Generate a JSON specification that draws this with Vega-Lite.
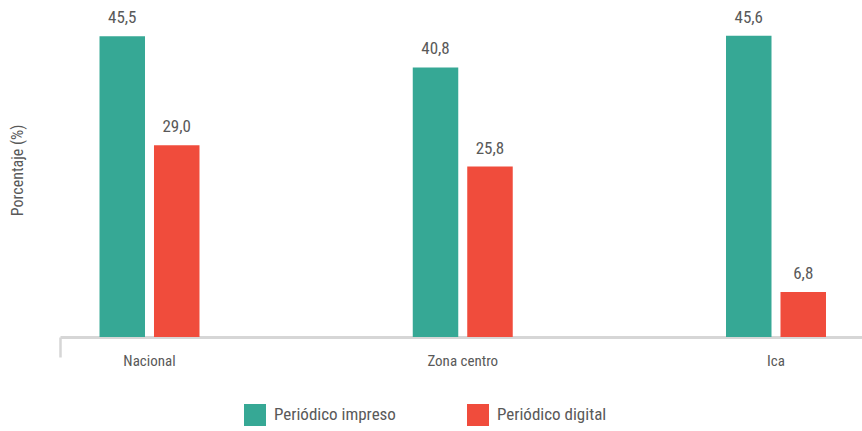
{
  "$schema": "https://vega.github.io/schema/vega-lite/v6.json",
  "width": 802,
  "height": 337,
  "autosize": {"type": "none"},
  "padding": {"left": 60, "top": 0, "right": 0, "bottom": 94},
  "config": {
    "font": "Liberation Sans Narrow, Roboto Condensed, DejaVu Sans Condensed, Roboto",
    "view": {"stroke": null},
    "locale": {"number": {"decimal": ",", "thousands": ".", "grouping": [3], "currency": ["", " €"]}}
  },
  "data": {
    "values": [
      {"region": "Nacional", "serie": "Periódico impreso", "value": 45.5},
      {"region": "Nacional", "serie": "Periódico digital", "value": 29.0},
      {"region": "Zona centro", "serie": "Periódico impreso", "value": 40.8},
      {"region": "Zona centro", "serie": "Periódico digital", "value": 25.8},
      {"region": "Ica", "serie": "Periódico impreso", "value": 45.6},
      {"region": "Ica", "serie": "Periódico digital", "value": 6.8}
    ]
  },
  "resolve": {"scale": {"x": "independent"}, "axis": {"x": "independent"}},
  "layer": [
    {
      "encoding": {
        "x": {
          "field": "region", "type": "nominal", "sort": ["Nacional", "Zona centro", "Ica"],
          "scale": {"range": [-67.125, 872.625], "paddingInner": 0.6808, "paddingOuter": 0.3404},
          "axis": {"orient": "bottom", "title": null, "domain": false, "ticks": false, "labelAngle": 0,
                   "labelFontSize": 15, "labelColor": "#595959", "labelPadding": 16}
        },
        "xOffset": {"field": "serie", "type": "nominal", "sort": ["Periódico impreso", "Periódico digital"],
                    "scale": {"paddingInner": 0.165, "paddingOuter": 0}},
        "y": {
          "field": "value", "type": "quantitative",
          "scale": {"domain": [0, 51], "nice": false},
          "axis": {"title": "Porcentaje (%)", "domain": false, "ticks": false, "labels": false, "grid": false,
                   "titleFontSize": 16, "titleFontWeight": "normal", "titleColor": "#595959",
                   "titleX": -43, "titleY": 170, "titleAngle": -90, "titleAlign": "center", "titleBaseline": "middle"}
        }
      },
      "layer": [
        {
          "mark": {"type": "bar"},
          "encoding": {
            "color": {"field": "serie", "type": "nominal",
                      "sort": ["Periódico impreso", "Periódico digital"],
                      "scale": {"domain": ["Periódico impreso", "Periódico digital"], "range": ["#36A895", "#F04C3C"]},
                      "legend": {"orient": "none", "direction": "horizontal", "title": null,
                                 "legendX": 184, "legendY": 404, "symbolType": "square", "symbolSize": 484,
                                 "symbolStrokeWidth": 0, "labelFontSize": 17, "labelColor": "#595959",
                                 "labelOffset": 8, "columnPadding": 71, "labelLimit": 300}}
          }
        },
        {
          "mark": {"type": "text", "baseline": "bottom", "dy": -9, "fontSize": 17, "color": "#595959"},
          "encoding": {"text": {"field": "value", "type": "quantitative", "format": ".1f"}}
        }
      ]
    },
    {
      "mark": {"type": "bar", "opacity": 0},
      "encoding": {
        "x": {
          "field": "region", "type": "nominal", "sort": ["Nacional", "Zona centro", "Ica"],
          "scale": {"paddingInner": 0, "paddingOuter": 0},
          "axis": {"orient": "bottom", "title": null, "labels": false, "values": ["Nacional"], "bandPosition": 0,
                   "domain": true, "domainColor": "#d6d6d6", "domainWidth": 3,
                   "ticks": true, "tickColor": "#d6d6d6", "tickWidth": 2.5, "tickSize": 20}
        }
      }
    }
  ]
}
